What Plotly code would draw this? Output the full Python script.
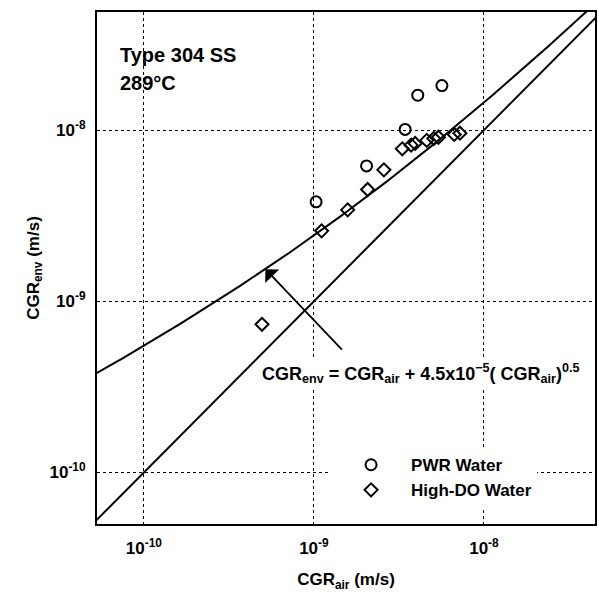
import numpy as np
import plotly.graph_objects as go

# ---- data ----
pwr_air = [1.03e-9, 2.04e-9, 3.44e-9, 4.08e-9, 5.66e-9]
pwr_env = [3.81e-9, 6.18e-9, 1.01e-8, 1.60e-8, 1.82e-8]

hdo_air = [4.95e-10, 1.11e-9, 1.58e-9, 2.07e-9, 2.58e-9, 3.31e-9, 3.73e-9,
           3.94e-9, 4.61e-9, 5.07e-9, 5.40e-9, 6.69e-9, 7.22e-9]
hdo_env = [7.34e-10, 2.58e-9, 3.42e-9, 4.50e-9, 5.86e-9, 7.78e-9, 8.17e-9,
           8.36e-9, 8.71e-9, 8.94e-9, 9.09e-9, 9.44e-9, 9.60e-9]

coef_a = 4.5e-5
coef_exp = 0.5
curve_air = np.logspace(-10.5, -7.2, 200)
curve_env = curve_air + coef_a * curve_air ** coef_exp

arrow_tail = (1.49e-9, 5.12e-10)
arrow_tip = (5.19e-10, 1.54e-9)

x_range = [5.3e-11, 4.5e-8]
y_range = [5.0e-11, 4.9e-8]
major_vals = [1e-10, 1e-9, 1e-8]
major_text = ["10<sup>-10</sup>", "10<sup>-9</sup>", "10<sup>-8</sup>"]
minor_vals = [k * 10.0 ** e for e in range(-11, -7) for k in range(2, 10)]

FONT = "Liberation Sans, Arial, sans-serif"

fig = go.Figure()
fig.add_trace(go.Scatter(x=curve_air, y=curve_env, mode="lines",
                         line=dict(color="black", width=2), showlegend=False))
fig.add_trace(go.Scatter(x=curve_air, y=curve_air, mode="lines",
                         line=dict(color="black", width=2), showlegend=False))
fig.add_trace(go.Scatter(x=pwr_air, y=pwr_env, mode="markers", name="PWR Water",
                         marker=dict(symbol="circle-open", size=11, color="black",
                                     line=dict(width=2))))
fig.add_trace(go.Scatter(x=hdo_air, y=hdo_env, mode="markers", name="High-DO Water",
                         marker=dict(symbol="diamond-open", size=10, color="black",
                                     line=dict(width=2))))

xr = [np.log10(x_range[0]), np.log10(x_range[1])]
yr = [np.log10(y_range[0]), np.log10(y_range[1])]

axis_common = dict(
    type="log", showline=True, linecolor="black", linewidth=2, mirror=True,
    ticks="", tickmode="array", tickvals=major_vals, ticktext=major_text,
    showgrid=True, gridcolor="black", gridwidth=1.2, griddash="dot",
    zeroline=False,
    tickfont=dict(family=FONT, size=17, color="black", weight="bold"),
)

fig.update_layout(
    xaxis=dict(range=xr,
               title=dict(text="CGR<sub>air</sub> (m/s)",
                          font=dict(family=FONT, size=17, color="black", weight="bold"),
                          standoff=18),
               ticklabelstandoff=8, **axis_common),
    yaxis=dict(range=yr,
               title=dict(text="CGR<sub>env</sub> (m/s)",
                          font=dict(family=FONT, size=17, color="black", weight="bold"),
                          standoff=6),
               ticklabelstandoff=6, **axis_common),
)

# tick marks on all four sides (drawn inside the frame); log axes take log10 positions
for vals, length, width in [(major_vals, 10, 2), (minor_vals, 6, 1.5)]:
    for v in vals:
        lv = float(np.log10(v))
        if x_range[0] < v < x_range[1]:
            for anchor, sign in [(0, 1), (1, -1)]:
                fig.add_shape(type="line", xref="x", yref="paper",
                              x0=lv, x1=lv, ysizemode="pixel", yanchor=anchor,
                              y0=0, y1=sign * length,
                              line=dict(width=width, color="black"), layer="above")
        if y_range[0] < v < y_range[1]:
            for anchor, sign in [(0, 1), (1, -1)]:
                fig.add_shape(type="line", yref="y", xref="paper",
                              y0=lv, y1=lv, xsizemode="pixel", xanchor=anchor,
                              x0=0, x1=sign * length,
                              line=dict(width=width, color="black"), layer="above")

fig.add_annotation(x=np.log10(arrow_tip[0]), y=np.log10(arrow_tip[1]),
                   ax=np.log10(arrow_tail[0]), ay=np.log10(arrow_tail[1]),
                   xref="x", yref="y", axref="x", ayref="y",
                   showarrow=True, arrowhead=1, arrowsize=1.8, arrowwidth=1.8,
                   arrowcolor="black", text="")

fig.add_annotation(x=0.649, y=0.266, xref="paper", yref="paper", showarrow=False,
                   text="CGR<sub>env</sub> = CGR<sub>air</sub> + 4.5x10<sup>−5</sup>( CGR<sub>air</sub>)<sup>0.5</sup>",
                   font=dict(family=FONT, size=18, color="black", weight="bold"),
                   bgcolor="white")
fig.add_annotation(x=0.042, y=0.941, xref="paper", yref="paper", showarrow=False,
                   xanchor="left", text="Type 304 SS",
                   font=dict(family=FONT, size=20, color="black", weight="bold"))
fig.add_annotation(x=0.042, y=0.887, xref="paper", yref="paper", showarrow=False,
                   xanchor="left", text="289°C",
                   font=dict(family=FONT, size=20, color="black", weight="bold"))

fig.update_layout(
    width=599, height=592,
    margin=dict(l=97, r=2, t=12, b=68),
    plot_bgcolor="white", paper_bgcolor="white",
    font=dict(family=FONT, color="black"),
    legend=dict(x=0.47, y=0.150, xanchor="left", yanchor="top",
                bgcolor="white", borderwidth=0, itemwidth=70,
                tracegroupgap=2,
                font=dict(family=FONT, size=17, color="black", weight="bold")),
)

fig.write_html("out.html")
